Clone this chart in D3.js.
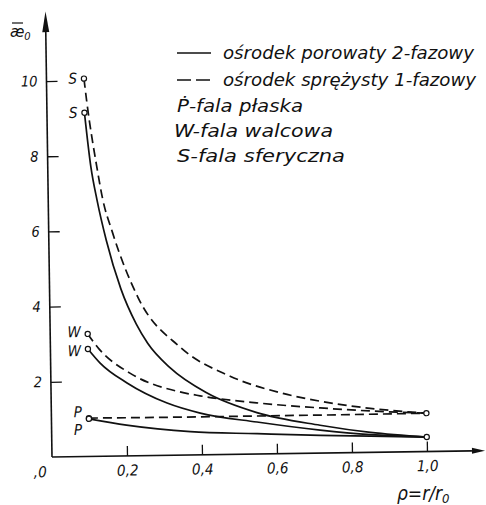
<!DOCTYPE html>
<html><head><meta charset="utf-8">
<script src="https://cdn.jsdelivr.net/npm/d3@7"></script>
<style>
html,body{margin:0;padding:0;background:#fff;}
svg{display:block;}
text{font-family:"DejaVu Sans Condensed","DejaVu Sans",sans-serif;font-style:italic;fill:#111;}
</style>
</head><body>
<svg id="c" width="486" height="505"></svg>
<script>
// ---- data (rho = r/r0, kappa0) ----
const sDashedRho = [0.1,0.107,0.13,0.145,0.17,0.236,0.346,0.478,0.611,0.717,0.85,1.0];
const sDashedK   = [10.05,9.4,7.75,6.85,5.95,4.2,2.87,2.08,1.62,1.38,1.17,1.02];
const sSolidRho  = [0.1,0.115,0.13,0.153,0.19,0.23,0.26,0.318,0.416,0.548,0.716,0.85,1.0];
const sSolidK    = [9.14,7.7,6.82,5.75,4.45,3.5,2.98,2.33,1.64,1.1,0.74,0.53,0.385];
const wDashedRho = [0.1,0.13,0.211,0.344,0.397,0.548,0.717,0.85,1.0];
const wDashedK   = [3.26,2.85,2.2,1.68,1.57,1.36,1.2,1.1,1.02];
const wSolidRho  = [0.1,0.132,0.203,0.309,0.397,0.548,0.716,0.85,1.0];
const wSolidK    = [2.86,2.48,1.94,1.39,1.11,0.85,0.61,0.47,0.385];
const pDashedRho = [0.1,0.4,0.7,1.0];
const pDashedK   = [1.02,1.01,1.01,1.02];
const pSolidRho  = [0.1,0.2,0.37,0.548,0.716,0.85,1.0];
const pSolidK    = [1.0,0.82,0.62,0.54,0.47,0.43,0.385];

const seriesNames  = ["S","S","W","W","P","P"];
const seriesDashed = [true,false,true,false,true,false];
const yTicks = [2,4,6,8,10];
const yTickLabels = ["2","4","6","8","10"];
const xTicks = [0.2,0.4,0.6,0.8,1.0];
const xTickLabels = ["0,2","0,4","0,6","0,8","1,0"];
const originLabel = ",0";
const legendLabels = ["ośrodek porowaty 2-fazowy","ośrodek sprężysty 1-fazowy","Ṗ-fala płaska","W-fala walcowa","S-fala sferyczna"];
const legendKinds  = ["solid","dashed","none","none","none"];

const series = [
  [sDashedRho,sDashedK],[sSolidRho,sSolidK],
  [wDashedRho,wDashedK],[wSolidRho,wSolidK],
  [pDashedRho,pDashedK],[pSolidRho,pSolidK]
].map((s,i)=>({name:seriesNames[i],dashed:seriesDashed[i],pts:s[0].map((r,j)=>[r,s[1][j]])}));

const svg = d3.select("#c");
svg.append("rect").attr("width",486).attr("height",505).attr("fill","#fff");

const x = d3.scaleLinear().domain([0,1]).range([0,375]);
const y = d3.scaleLinear().domain([0,10]).range([0,-376]);

const g = svg.append("g").attr("transform","translate(52,457) rotate(-0.84)");

// axes lines
g.append("line").attr("x1",0).attr("y1",0).attr("x2",0).attr("y2",y(11.4)).attr("stroke","#111").attr("stroke-width",1.6);
g.append("path").attr("d",`M0,${y(11.85)} L-3.5,${y(11.3)} L3.5,${y(11.3)} Z`).attr("fill","#111");
g.append("line").attr("x1",0).attr("y1",0).attr("x2",x(1.12)).attr("y2",0).attr("stroke","#111").attr("stroke-width",1.6);
g.append("path").attr("d",`M${x(1.155)},0 L${x(1.12)},-3 L${x(1.12)},3 Z`).attr("fill","#111");

const yAxis = d3.axisLeft(y).tickValues(yTicks).tickSize(-11).tickPadding(9)
  .tickFormat((d,i)=>yTickLabels[i]);
const ya = g.append("g").call(yAxis);
ya.select(".domain").remove();
ya.selectAll(".tick line").attr("stroke","#111").attr("stroke-width",1.3);
ya.selectAll(".tick text").attr("font-size",14.5).attr("fill","#111")
  .style("font-family",'"DejaVu Sans Condensed","DejaVu Sans",sans-serif').style("font-style","italic");

const xAxis = d3.axisBottom(x).tickValues(xTicks).tickSize(-10).tickPadding(9)
  .tickFormat((d,i)=>xTickLabels[i]);
const xa = g.append("g").call(xAxis);
xa.select(".domain").remove();
xa.selectAll(".tick line").attr("stroke","#111").attr("stroke-width",1.3);
xa.selectAll(".tick text").attr("font-size",15).attr("fill","#111")
  .style("font-family",'"DejaVu Sans Condensed","DejaVu Sans",sans-serif').style("font-style","italic");

g.append("text").attr("x",-12).attr("y",20).attr("text-anchor","middle").attr("font-size",15).text(originLabel);

// curves
const line = d3.line().x(d=>x(d[0])).y(d=>y(d[1])).curve(d3.curveMonotoneX);
g.selectAll("path.curve").data(series).join("path").attr("class","curve")
  .attr("d",d=>line(d.pts)).attr("fill","none").attr("stroke","#111")
  .attr("stroke-width",1.7).attr("stroke-dasharray",d=>d.dashed?"9,5":null);

// start / end markers
const markers = [];
series.forEach(s=>{ markers.push(s.pts[0]); });
markers.push(sDashedRho.map((r,i)=>[r,sDashedK[i]]).slice(-1)[0]);
markers.push(sSolidRho.map((r,i)=>[r,sSolidK[i]]).slice(-1)[0]);
g.selectAll("circle.m").data(markers).join("circle").attr("class","m")
  .attr("cx",d=>x(d[0])).attr("cy",d=>y(d[1])).attr("r",2.6)
  .attr("fill","#fff").attr("stroke","#111").attr("stroke-width",1.2);

// curve labels
const labelDy = [5,5,3,7,-1,16];
g.selectAll("text.cl").data(series).join("text").attr("class","cl")
  .attr("x",d=>x(d.pts[0][0])-7).attr("y",(d,i)=>y(d.pts[0][1])+labelDy[i])
  .attr("text-anchor","end").attr("font-size",15).text(d=>d.name);

// y-axis title
const yt = svg.append("text").attr("x",10).attr("y",37).attr("font-size",16);
yt.append("tspan").text("æ");
yt.append("tspan").attr("font-size",11).attr("dy",3).text("0");
svg.append("line").attr("x1",12).attr("x2",23).attr("y1",23).attr("y2",23).attr("stroke","#111").attr("stroke-width",1.2);

// x-axis title
const xt = svg.append("text").attr("x",397).attr("y",500).attr("font-size",19);
xt.append("tspan").text("ρ=r/r");
xt.append("tspan").attr("font-size",13).attr("dy",3).text("0");

// legend
const legY = [53,80,106,131,156];
const legX = [223,223,177,174,177];
const legEnd = [474,476,303,333,345];
legendLabels.forEach((t,i)=>{
  if(legendKinds[i]==="solid"){
    svg.append("line").attr("x1",177).attr("x2",211).attr("y1",legY[i]).attr("y2",legY[i]).attr("stroke","#111").attr("stroke-width",1.7);
  } else if(legendKinds[i]==="dashed"){
    svg.append("line").attr("x1",177).attr("x2",211).attr("y1",legY[i]).attr("y2",legY[i]).attr("stroke","#111").attr("stroke-width",1.7).attr("stroke-dasharray","14,5");
  }
  svg.append("text").attr("x",legX[i]).attr("y",legY[i]+6).attr("font-size",17)
    .attr("textLength",legEnd[i]-legX[i]).attr("lengthAdjust","spacingAndGlyphs").text(t);
});
</script>
</body></html>
